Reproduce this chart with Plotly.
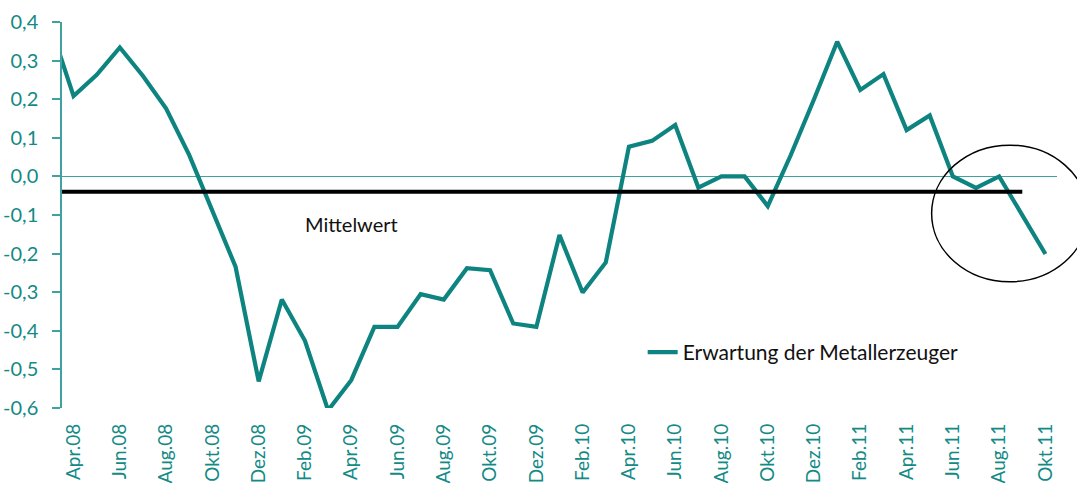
import plotly.graph_objects as go

# ---- data ----
months = ["Jan", "Feb", "Mär", "Apr", "Mai", "Jun", "Jul", "Aug", "Sep", "Okt", "Nov", "Dez"]
# Mar.08 (first value) lies just left of the visible axis; only its segment into Apr.08 shows
categories = (
    [f"{m}.08" for m in months[2:]]
    + [f"{m}.09" for m in months]
    + [f"{m}.10" for m in months]
    + [f"{m}.11" for m in months[:10]]
)
erwartung = [
    0.39,                                                    # Mär.08
    0.208, 0.263, 0.334, 0.26, 0.176, 0.055, -0.09, -0.234, -0.531,   # Apr.08 - Dez.08
    -0.319, -0.426, -0.606, -0.528, -0.39, -0.39, -0.305, -0.319, -0.238, -0.243, -0.381, -0.39,  # 2009
    -0.152, -0.301, -0.223, 0.077, 0.092, 0.133, -0.029, 0.0, 0.0, -0.077, 0.056, 0.20,            # 2010
    0.349, 0.224, 0.265, 0.12, 0.158, 0.0, -0.03, 0.0, -0.10, -0.201,                                # 2011
]
mittelwert_value = -0.04
mittelwert_categories = categories[:-1]  # Mär.08 .. Sep.11
mittelwert = [mittelwert_value] * len(mittelwert_categories)

tick_cats = categories[1::2]  # Apr.08, Jun.08, ...
y_tickvals = [0.4, 0.3, 0.2, 0.1, 0.0, -0.1, -0.2, -0.3, -0.4, -0.5, -0.6]
y_ticktext = ["0,4", "0,3", "0,2", "0,1", "0,0", "-0,1", "-0,2", "-0,3", "-0,4", "-0,5", "-0,6"]

series_name = "Erwartung der Metallerzeuger"
mean_label = "Mittelwert"

TEAL = "#0E8480"
TEAL_TEXT = "#138A86"
TEAL_AXIS = "#3FA29E"
FONT = "Lato"

fig = go.Figure()
fig.add_trace(go.Scatter(
    x=categories, y=erwartung, mode="lines", name=series_name,
    line=dict(color=TEAL, width=4.2), showlegend=True,
))
fig.add_trace(go.Scatter(
    x=mittelwert_categories, y=mittelwert, mode="lines", name=mean_label,
    line=dict(color="black", width=4), showlegend=False,
))

fig.update_layout(
    width=1077, height=483,
    margin=dict(l=62, r=20, t=22, b=75, autoexpand=False),
    paper_bgcolor="white", plot_bgcolor="white",
    font=dict(family=FONT, size=20, color=TEAL_TEXT),
    legend=dict(
        x=0.5836, y=0.144, xanchor="left", yanchor="middle",
        bgcolor="rgba(0,0,0,0)", borderwidth=0,
        font=dict(family=FONT, size=21, color="#111111"),
    ),
    annotations=[dict(
        text=mean_label, xref="paper", yref="paper", x=0.291, y=0.4775,
        xanchor="center", yanchor="middle", showarrow=False,
        font=dict(family=FONT, size=20, color="#111111"),
    )],
    shapes=[dict(
        type="circle", xref="paper", yref="paper",
        x0=0.874, x1=1.031, y0=0.327, y1=0.681,
        line=dict(color="black", width=1.5),
    )],
)

fig.update_xaxes(
    type="category", categoryorder="array", categoryarray=categories,
    range=[0.5, len(categories) - 0.5], automargin=False,
    tickmode="array", tickvals=tick_cats, ticktext=tick_cats,
    tickangle=-90, showgrid=False, showline=False, ticks="",
    zeroline=False, ticklabelstandoff=11,
    tickfont=dict(family=FONT, size=19, color=TEAL_TEXT),
)
fig.update_yaxes(
    range=[-0.6, 0.4], automargin=False,
    tickmode="array", tickvals=y_tickvals, ticktext=y_ticktext,
    showgrid=False, showline=True, linecolor=TEAL_AXIS, linewidth=1.5,
    ticks="outside", ticklen=8, tickcolor=TEAL_AXIS, tickwidth=1.5,
    zeroline=True, zerolinecolor=TEAL_AXIS, zerolinewidth=1.3,
    ticklabelstandoff=10,
    tickfont=dict(family=FONT, size=20, color=TEAL_TEXT),
)

fig.write_html(
    "out.html",
    config={"displayModeBar": False},
    post_script="document.body.style.margin='0px';document.body.style.padding='0px';",
)
